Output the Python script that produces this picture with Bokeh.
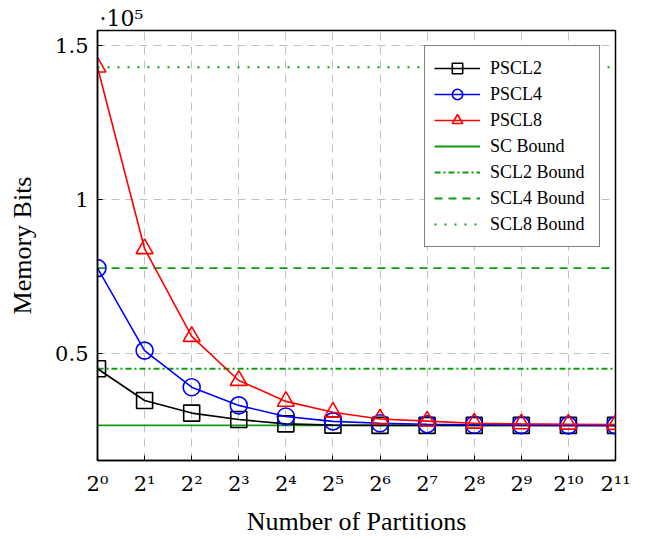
from bokeh.plotting import figure
from bokeh.models import Range1d, FixedTicker, Legend
from bokeh.embed import file_html
from bokeh.resources import INLINE

partitions = [1, 2, 4, 8, 16, 32, 64, 128, 256, 512, 1024, 2048]
x_labels = ["2⁰", "2¹", "2²", "2³", "2⁴", "2⁵", "2⁶", "2⁷", "2⁸", "2⁹", "2¹⁰", "2¹¹"]
pscl2 = [45100, 34800, 30700, 28600, 27200, 26800, 26700, 26700, 26700, 26700, 26700, 26700]
pscl4 = [77800, 51000, 39100, 33200, 29600, 28000, 27400, 27100, 26900, 26800, 26700, 26700]
pscl8 = [143100, 84100, 55600, 41300, 34500, 31000, 28800, 28100, 27400, 27200, 27100, 27000]
sc_bound = 26700
scl2_bound = 45100
scl4_bound = 77800
scl8_bound = 143100
y_ticks = [50000, 100000, 150000]
y_tick_labels = ["0.5", "1", "1.5"]
y_start, y_end = 15300, 155000
scale_note = "·10⁵"

FONT = "Liberation Serif"
TICKFONT = "DejaVu Serif"
GREEN = "#109a10"

p = figure(frame_width=518, frame_height=430, x_axis_type="log",
           x_range=Range1d(partitions[0], partitions[-1]),
           y_range=Range1d(y_start, y_end),
           output_backend="svg", toolbar_location=None,
           min_border_left=97, min_border_right=30, min_border_top=30, min_border_bottom=75)

p.title.text = scale_note
p.title.align = "left"
p.title.text_font = TICKFONT
p.title.text_font_size = "22px"
p.title.text_font_style = "normal"
p.title.text_color = "black"
p.title.standoff = 0
p.title.offset = 2

p.outline_line_color = "black"
p.outline_line_width = 1.5
p.background_fill_color = "white"

for g in (p.xgrid, p.ygrid):
    g.grid_line_color = "#c0c0c0"
    g.grid_line_dash = "8 6"
    g.grid_line_width = 1

p.xaxis.ticker = FixedTicker(ticks=partitions)
p.xaxis.major_label_overrides = {v: l for v, l in zip(partitions, x_labels)}
p.yaxis.ticker = FixedTicker(ticks=y_ticks)
p.yaxis.major_label_overrides = {v: l for v, l in zip(y_ticks, y_tick_labels)}

for ax in (p.xaxis, p.yaxis):
    ax.axis_line_color = "black"
    ax.axis_line_width = 1.5
    ax.major_tick_in = 5
    ax.major_tick_out = 0
    ax.minor_tick_line_color = None
    ax.major_label_text_font = TICKFONT
    ax.major_label_text_font_size = "21px"
    ax.major_label_text_color = "black"
    ax.axis_label_text_font = FONT
    ax.axis_label_text_font_size = "26px"
    ax.axis_label_text_font_style = "normal"
    ax.axis_label_text_color = "black"

p.xaxis.major_label_standoff = 11
p.yaxis.major_label_standoff = 9
p.xaxis.axis_label = "Number of Partitions"
p.yaxis.axis_label = "Memory Bits"
p.xaxis.axis_label_standoff = 8
p.yaxis.axis_label_standoff = 15

xs_bound = [partitions[0], partitions[-1]]
r_sc = p.line(xs_bound, [sc_bound] * 2, line_color=GREEN, line_width=1.8)
r_s2 = p.line(xs_bound, [scl2_bound] * 2, line_color=GREEN, line_width=1.8, line_dash="6 3 2 3")
r_s4 = p.line(xs_bound, [scl4_bound] * 2, line_color=GREEN, line_width=1.8, line_dash="8 6")
r_s8 = p.line(xs_bound, [scl8_bound] * 2, line_color=GREEN, line_width=2, line_dash="2 8")

l2 = p.line(partitions, pscl2, line_color="black", line_width=1.6)
m2 = p.scatter(partitions, pscl2, marker="square", size=16, line_color="black", line_width=1.6, fill_color=None)
l4 = p.line(partitions, pscl4, line_color="blue", line_width=1.6)
m4 = p.scatter(partitions, pscl4, marker="circle", size=17, line_color="blue", line_width=1.6, fill_color=None)
l8 = p.line(partitions, pscl8, line_color="red", line_width=1.6)
m8 = p.scatter(partitions, pscl8, marker="triangle", size=17, line_color="red", line_width=1.6, fill_color=None)

legend = Legend(items=[
    ("PSCL2", [l2, m2]),
    ("PSCL4", [l4, m4]),
    ("PSCL8", [l8, m8]),
    ("SC Bound", [r_sc]),
    ("SCL2 Bound", [r_s2]),
    ("SCL4 Bound", [r_s4]),
    ("SCL8 Bound", [r_s8]),
], location="top_right")
legend.label_text_font = FONT
legend.label_text_font_size = "18px"
legend.label_text_color = "black"
legend.glyph_width = 46
legend.glyph_height = 26
legend.label_width = 100
legend.label_standoff = 10
legend.spacing = 0
legend.padding = 9
legend.margin = 15
legend.border_line_color = "black"
legend.border_line_width = 1.5
legend.background_fill_alpha = 1.0
p.add_layout(legend)

open("out.html", "w").write(file_html(p, INLINE))
